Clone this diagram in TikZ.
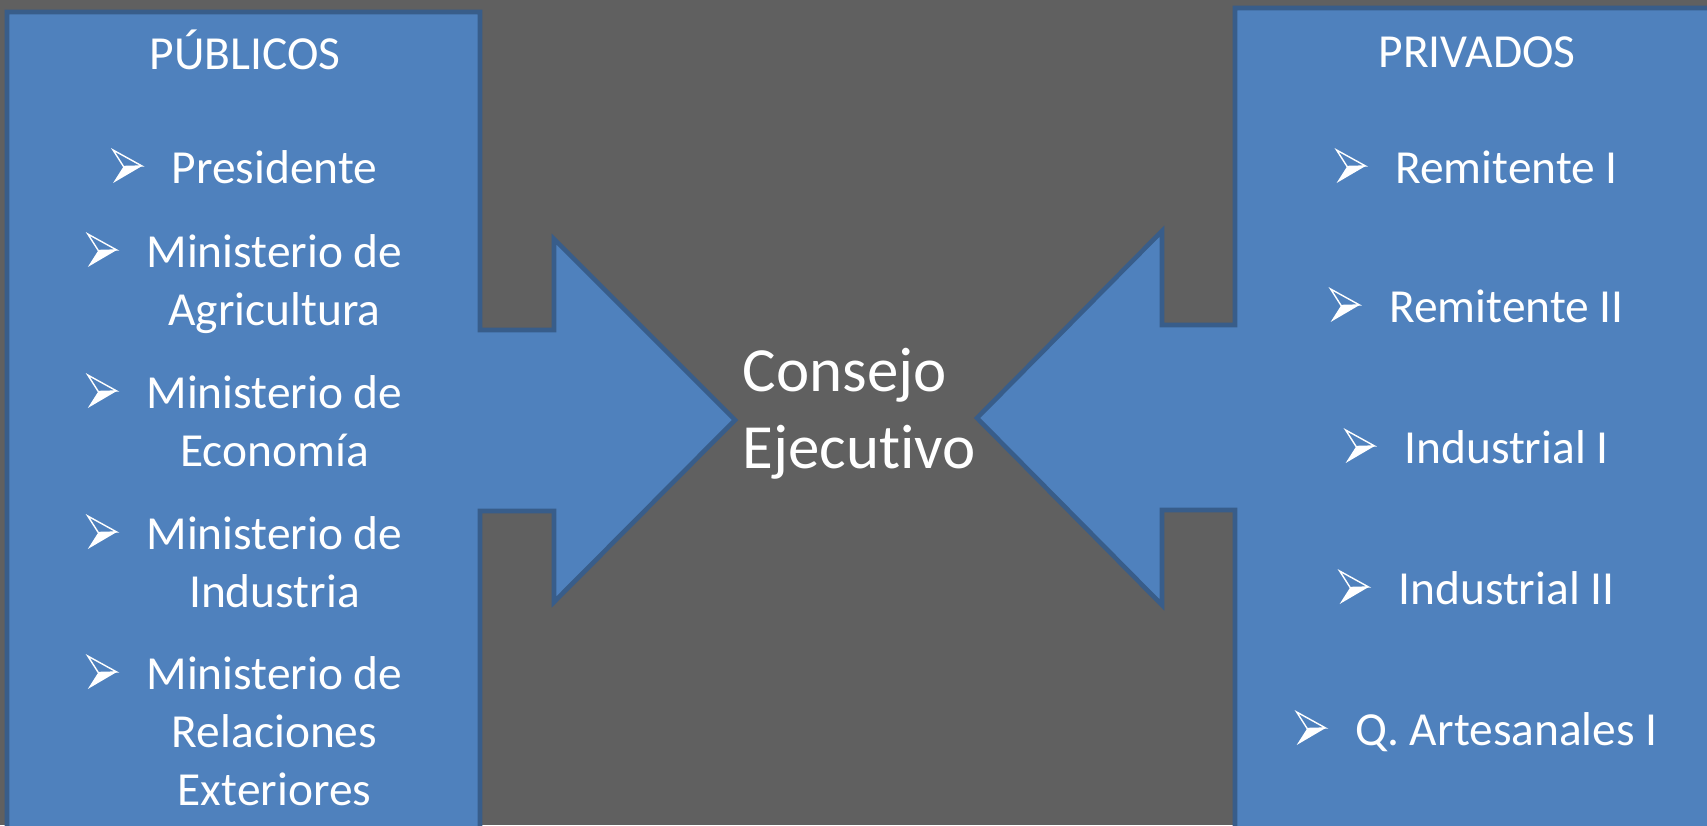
\documentclass[tikz,border=0pt]{standalone}
\usepackage{fontspec}
\setmainfont{Carlito}[Ligatures=NoCommon]

\definecolor{fondo}{HTML}{606060}
\definecolor{relleno}{HTML}{4F81BD}
\definecolor{borde}{HTML}{385D8A}

\tikzset{
    bloque/.style={fill=relleno, draw=borde, line width=1.3pt, line join=miter},
    titulo/.style={text=white, inner sep=0pt, anchor=base, font=\fontsize{13.5}{16.5}\selectfont},
    entrada/.style={titulo, align=center},
    consejo/.style={text=white, inner sep=0pt, anchor=base west, align=left, font=\fontsize{17.9}{21.8}\selectfont},
    vineta/.pic={
        \fill[white] (0.105,0.165) -- (0.29,0.17) -- (0,0) -- cycle;
        \draw[white, line width=0.4pt, line join=miter] (0,0.33) -- (0.29,0.17) -- (0.105,0.165) -- cycle;
    },
}

\begin{document}
\begin{tikzpicture}
    \useasboundingbox (0,0) rectangle (17.07,-8.25);
    \clip (0,0) rectangle (17.07,-8.25);
    \fill[fondo] (0,0) rectangle (17.07,-8.25);

    % bloque izquierdo con su flecha
    \draw[bloque] (0.07,-0.12) -- (4.80,-0.12) -- (4.80,-3.30) -- (5.54,-3.30)
        -- (5.54,-2.39) -- (7.35,-4.20) -- (5.54,-6.02) -- (5.54,-5.11)
        -- (4.80,-5.11) -- (4.80,-8.50) -- (0.07,-8.50) -- cycle;
    % bloque derecho con su flecha
    \draw[bloque] (12.35,-0.08) -- (17.30,-0.08) -- (17.30,-8.50) -- (12.35,-8.50)
        -- (12.35,-5.10) -- (11.62,-5.10) -- (11.62,-6.05) -- (9.77,-4.18)
        -- (11.62,-2.31) -- (11.62,-3.25) -- (12.35,-3.25) -- cycle;

    % los nodos de varias lineas se anclan en la ultima linea
    \node[titulo] (publicos) at (2.45,-0.69) {PÚBLICOS};
    \node[entrada] (presidente)  at (2.745,-1.83) {Presidente};
    \node[entrada] (agricultura) at (2.745,-3.25) {Ministerio de\\Agricultura};
    \node[entrada] (economia)    at (2.745,-4.66) {Ministerio de\\Economía};
    \node[entrada] (industria)   at (2.745,-6.07) {Ministerio de\\Industria};
    \node[entrada] (exteriores)  at (2.745,-8.05) {Ministerio de\\Relaciones\\Exteriores};

    \node[titulo] (privados) at (14.77,-0.67) {PRIVADOS};
    \node[entrada] (remitente1)  at (15.065,-1.83) {Remitente I};
    \node[entrada] (remitente2)  at (15.065,-3.22) {Remitente II};
    \node[entrada] (industrial1) at (15.065,-4.63) {Industrial I};
    \node[entrada] (industrial2) at (15.065,-6.04) {Industrial II};
    \node[entrada] (artesanales) at (15.065,-7.45) {Q. Artesanales I};

    \node[consejo] (ejecutivo) at (7.42,-4.68) {Consejo\\Ejecutivo};

    \foreach \n/\k in {presidente/0,agricultura/1,economia/1,industria/1,exteriores/2,
                       remitente1/0,remitente2/0,industrial1/0,industrial2/0,artesanales/0}
        \pic at ([xshift=-5.8mm, yshift=\k*5.8mm]\n.base west) {vineta};
\end{tikzpicture}
\end{document}
